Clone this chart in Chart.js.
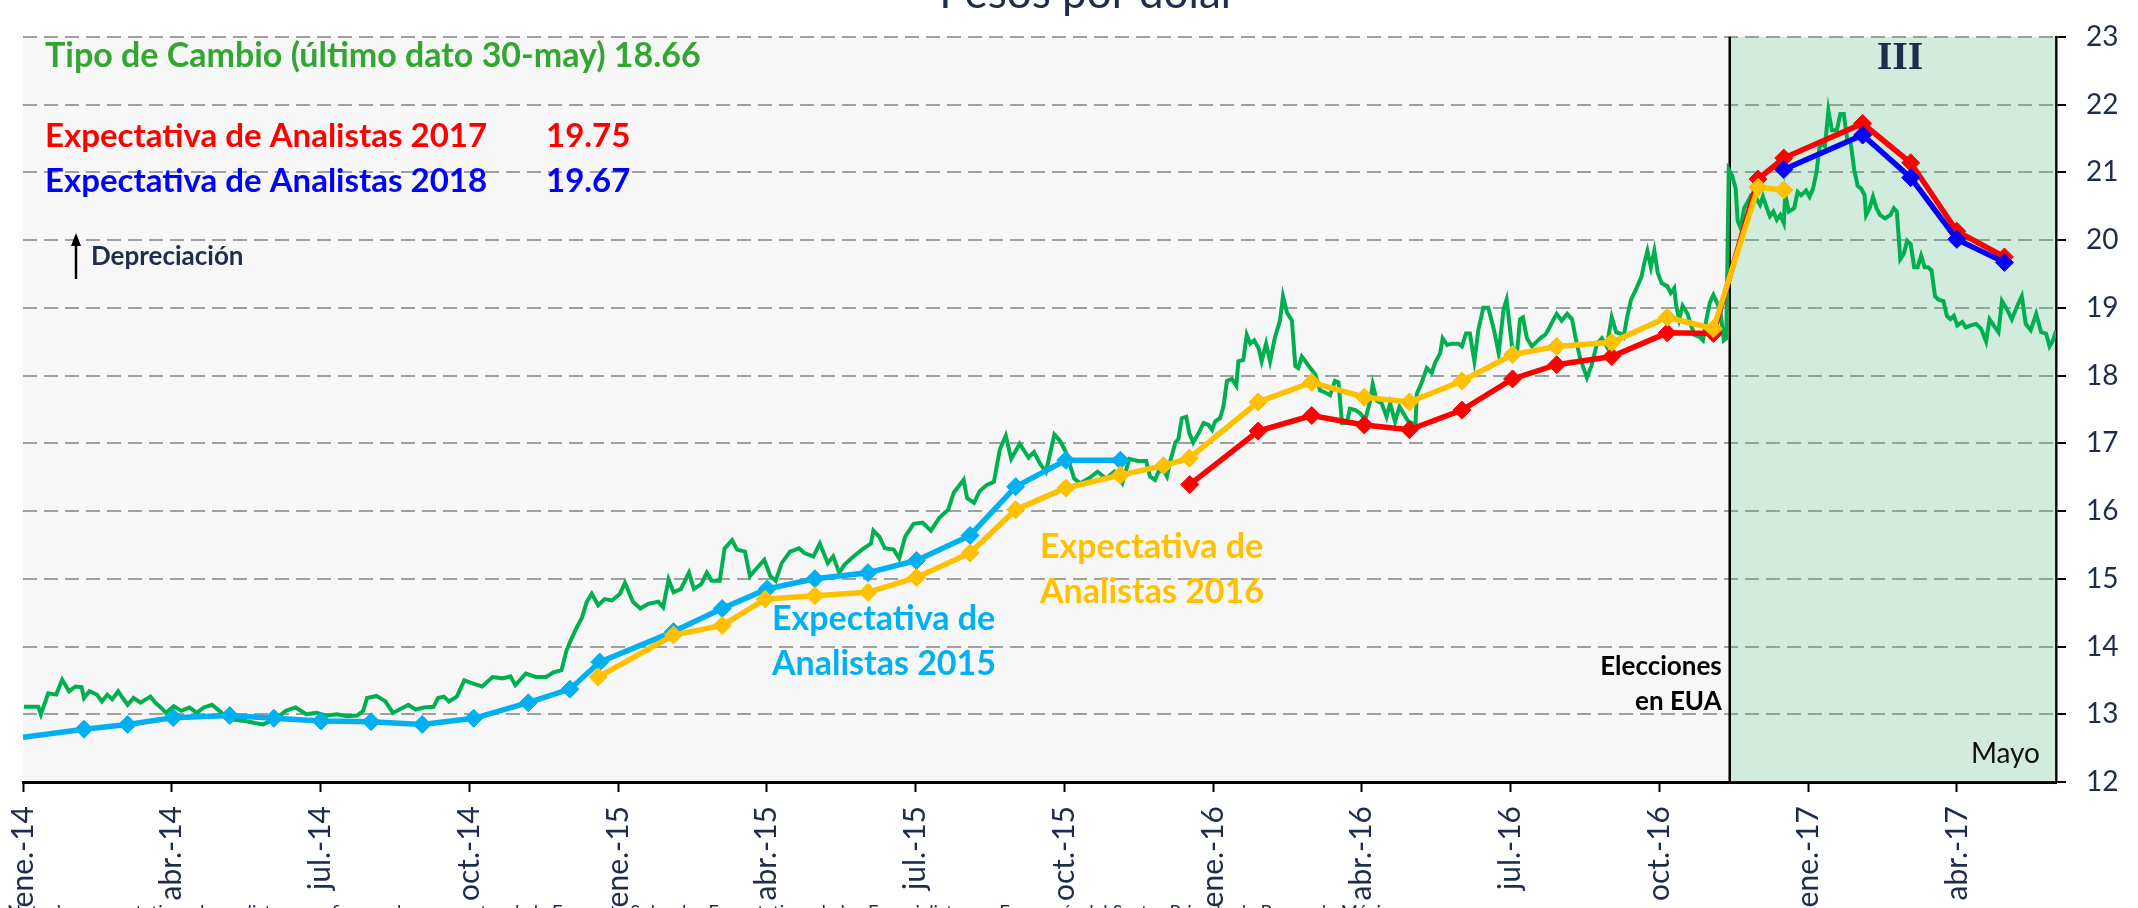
<!DOCTYPE html>
<html><head><meta charset="utf-8">
<script src="https://cdn.jsdelivr.net/npm/chart.js@4.4.1/dist/chart.umd.min.js"></script>
<style>html,body{margin:0;padding:0;background:#fff;}canvas{display:block}</style>
</head><body>
<canvas id="c" width="2138" height="908"></canvas>
<script>
// x values: months elapsed since 1-ene-2014
const tickMonths = [0,3,6,9,12,15,18,21,24,27,30,33,36,39];
const tickLabels = ['ene.-14','abr.-14','jul.-14','oct.-14','ene.-15','abr.-15','jul.-15','oct.-15','ene.-16','abr.-16','jul.-16','oct.-16','ene.-17','abr.-17'];
const yTicks = [12,13,14,15,16,17,18,19,20,21,22,23];
const electionMonth = 34.42;
const lastMonth = 41.0;

// Tipo de cambio (FIX)
const fxMonths = [0.02,0.31,0.36,0.51,0.67,0.79,0.93,1.06,1.18,1.23,1.34,1.49,1.59,1.70,1.80,1.92,2.01,2.11,2.23,2.37,2.57,2.67,2.78,2.88,3.04,3.19,3.36,3.50,3.65,3.81,3.96,4.11,4.27,4.48,4.68,4.84,5.09,5.30,5.50,5.71,5.92,6.12,6.33,6.53,6.74,6.86,6.94,7.13,7.31,7.46,7.67,7.77,7.92,8.08,8.28,8.37,8.49,8.59,8.75,8.90,9.05,9.26,9.47,9.67,9.83,9.93,10.14,10.34,10.55,10.70,10.86,10.96,11.04,11.16,11.27,11.37,11.47,11.60,11.73,11.88,12.04,12.14,12.30,12.45,12.61,12.81,12.91,13.02,13.12,13.27,13.43,13.53,13.68,13.79,13.89,14.05,14.15,14.30,14.40,14.56,14.66,14.78,14.95,15.07,15.18,15.30,15.47,15.65,15.76,15.94,16.07,16.23,16.34,16.46,16.57,16.75,16.92,17.10,17.15,17.27,17.38,17.56,17.67,17.79,17.96,18.14,18.31,18.48,18.66,18.77,18.97,19.04,19.18,19.29,19.43,19.58,19.70,19.82,19.93,20.10,20.28,20.39,20.51,20.63,20.80,20.92,21.03,21.20,21.32,21.49,21.67,21.84,22.01,22.17,22.31,22.48,22.65,
22.73,22.83,22.90,23.00,23.07,23.13,23.24,23.30,23.37,23.46,23.52,23.60,23.71,23.81,23.91,23.98,24.04,24.14,24.21,24.28,24.38,24.47,24.51,24.61,24.68,24.75,24.83,24.92,24.98,25.07,25.15,25.25,25.35,25.41,25.49,25.59,25.66,25.72,25.79,25.86,25.96,26.06,26.16,26.26,26.36,26.46,26.53,26.60,26.70,26.76,26.87,26.97,27.07,27.17,27.22,27.30,27.40,27.50,27.57,27.67,27.76,27.84,27.94,28.01,28.08,28.11,28.21,28.31,28.41,28.48,28.58,28.63,28.72,28.82,28.95,29.02,29.10,29.18,29.27,29.35,29.45,29.55,29.66,29.76,29.86,29.92,30.03,30.13,30.19,30.25,30.33,30.43,30.53,30.63,30.70,30.77,30.87,30.93,31.03,31.14,31.24,31.30,31.40,31.54,31.64,31.74,31.84,31.94,32.04,32.13,32.21,32.28,32.35,
32.43,32.53,32.64,32.71,32.76,32.83,32.90,32.97,33.05,33.16,33.23,33.30,33.34,33.40,33.47,33.57,33.64,33.71,33.81,33.88,33.95,34.02,34.09,34.16,34.23,34.30,34.35,34.40,34.47,34.54,34.58,34.64,34.71,34.78,34.85,34.92,35.03,35.09,35.16,35.23,35.30,35.37,35.44,35.51,35.54,35.61,35.72,35.79,35.86,35.96,36.03,36.10,36.17,36.24,36.34,36.41,36.48,36.58,36.65,36.72,36.79,36.86,36.93,37.00,37.07,37.14,37.17,37.24,37.31,37.38,37.45,37.55,37.66,37.73,37.79,37.86,37.93,38.00,38.07,38.14,38.21,38.28,38.35,38.42,38.49,38.56,38.63,38.73,38.80,38.87,38.94,39.01,39.11,39.18,39.28,39.39,39.49,39.59,39.66,39.77,39.84,39.91,40.01,40.11,40.22,40.31,40.39,40.49,40.60,40.70,40.80,40.87,40.94,41.00];
const fxValues = [13.11,13.11,13.00,13.31,13.29,13.51,13.34,13.41,13.40,13.24,13.34,13.29,13.19,13.29,13.22,13.34,13.24,13.14,13.24,13.17,13.26,13.17,13.10,13.02,13.12,13.05,13.10,13.02,13.10,13.14,13.05,12.95,12.92,12.90,12.87,12.85,12.93,13.05,13.10,13.00,13.02,12.98,13.00,12.97,12.98,13.05,13.24,13.27,13.19,13.02,13.10,13.14,13.07,13.10,13.11,13.24,13.26,13.19,13.26,13.50,13.46,13.41,13.55,13.53,13.56,13.43,13.60,13.55,13.55,13.62,13.65,13.94,14.08,14.27,14.42,14.66,14.78,14.61,14.70,14.68,14.78,14.94,14.66,14.56,14.63,14.66,14.58,14.99,14.80,14.85,15.09,14.85,14.92,15.09,14.97,14.97,15.45,15.57,15.43,15.40,15.04,15.14,15.28,15.04,14.97,15.23,15.40,15.45,15.38,15.33,15.52,15.23,15.33,15.09,15.21,15.33,15.43,15.52,15.71,15.62,15.45,15.43,15.30,15.62,15.81,15.83,15.71,15.90,16.02,16.27,16.46,16.19,16.12,16.29,16.38,16.43,16.91,17.11,16.77,16.99,16.79,16.87,16.70,16.58,17.13,17.03,16.87,16.48,16.41,16.48,16.58,16.48,16.58,16.41,16.77,16.74,16.74,
16.51,16.46,16.58,16.60,16.51,16.72,17.01,17.06,17.37,17.39,17.15,17.01,17.15,17.30,17.27,17.20,17.32,17.37,17.54,17.92,17.95,17.85,18.21,18.23,18.60,18.47,18.52,18.40,18.21,18.47,18.21,18.57,18.81,19.17,18.93,18.81,18.14,18.11,18.28,18.21,18.11,18.02,17.78,17.75,17.71,17.92,17.90,17.30,17.30,17.51,17.49,17.44,17.35,17.63,17.87,17.63,17.59,17.39,17.59,17.32,17.54,17.44,17.32,17.30,17.25,17.73,17.90,18.11,18.04,18.19,18.33,18.55,18.45,18.47,18.47,18.43,18.62,18.62,18.21,18.67,19.00,19.00,18.69,18.33,18.98,19.12,18.43,18.33,18.83,18.86,18.55,18.43,18.50,18.57,18.60,18.69,18.83,18.91,18.81,18.91,18.83,18.60,18.26,17.97,18.16,18.47,18.55,18.43,18.86,18.64,18.62,18.57,18.86,
19.12,19.27,19.46,19.70,19.84,19.60,19.84,19.51,19.36,19.32,19.22,19.29,19.03,18.83,19.03,18.91,18.74,18.60,18.57,18.52,18.83,19.08,19.19,19.08,18.96,18.52,18.55,21.04,20.95,20.76,20.28,20.18,20.47,20.56,20.66,20.66,20.52,20.64,20.49,20.35,20.42,20.30,20.37,20.25,20.68,20.42,20.47,20.71,20.66,20.73,20.64,20.76,21.00,21.43,21.38,21.91,21.62,21.62,21.86,21.86,21.48,21.43,21.04,20.80,20.76,20.66,20.37,20.47,20.64,20.47,20.37,20.32,20.37,20.47,20.42,19.72,19.80,19.99,19.94,19.60,19.60,19.77,19.60,19.60,19.55,19.17,19.12,19.10,18.88,18.83,18.88,18.74,18.79,18.71,18.74,18.76,18.69,18.50,18.83,18.71,18.64,19.10,18.98,18.83,19.03,19.17,18.76,18.67,18.91,18.64,18.62,18.43,18.52,18.66];

// Expectativa de Analistas 2015
const exp15Months = [0,1.23,2.11,3.03,4.17,5.06,6.01,7.02,8.05,9.09,10.19,11.03,11.63,13.12,14.10,15.01,15.97,17.04,18.02,19.10,20.02,21.03,22.13];
const exp15Values = [12.66,12.78,12.85,12.95,12.98,12.94,12.90,12.89,12.85,12.94,13.17,13.37,13.77,14.22,14.56,14.85,15.00,15.09,15.27,15.64,16.36,16.75,16.75];
// Expectativa de Analistas 2016
const exp16Months = [11.60,13.12,14.10,14.97,15.97,17.04,18.02,19.10,20.02,21.03,22.13,23.00,23.52,24.91,25.99,27.05,27.96,29.02,30.04,30.93,32.04,33.16,34.09,34.99,35.51];
const exp16Values = [13.55,14.17,14.31,14.70,14.75,14.80,15.02,15.38,16.02,16.34,16.53,16.67,16.78,17.61,17.90,17.68,17.61,17.92,18.31,18.43,18.49,18.86,18.69,20.78,20.74];
// Expectativa de Analistas 2017
const exp17Months = [23.53,24.91,25.99,27.05,27.96,29.02,30.04,30.93,32.04,33.16,34.09,34.99,35.51,37.10,38.07,39.00,39.96];
const exp17Values = [16.39,17.18,17.41,17.27,17.20,17.49,17.95,18.16,18.28,18.63,18.62,20.90,21.21,21.72,21.14,20.13,19.75];
// Expectativa de Analistas 2018
const exp18Months = [35.51,37.10,38.07,39.00,39.96];
const exp18Values = [21.04,21.55,20.92,20.01,19.67];

const NAVY = '#1F2D4D';
const FONT = 'Lato, "Open Sans", sans-serif';

function pts(xs, ys){ return xs.map((x,i)=>({x:x, y:ys[i]})); }
function expSet(label, xs, ys, color, order, hideFirst){
  return {
    label, data: pts(xs, ys), borderColor: color, backgroundColor: color,
    borderWidth: 5.5, pointStyle: 'rectRot',
    pointRadius: hideFirst ? (c => c.dataIndex === 0 ? 0 : 9) : 9,
    pointBorderWidth: 1, pointBorderColor: color, pointBackgroundColor: color,
    tension: 0, order
  };
}

const backgroundPlugin = {
  id: 'bg',
  beforeDraw(chart){
    const {ctx, chartArea:a} = chart;
    ctx.save();
    ctx.fillStyle = '#F7F7F7';
    ctx.fillRect(a.left, a.top, a.right - a.left, a.bottom - a.top);
    ctx.restore();
  },
  beforeDatasetsDraw(chart){
    const {ctx, chartArea:a, scales} = chart;
    const xe = scales.x.getPixelForValue(electionMonth);
    const xr = scales.x.getPixelForValue(lastMonth);
    ctx.save();
    ctx.fillStyle = 'rgba(60,190,115,0.2)';
    ctx.fillRect(xe, a.top, xr - xe, a.bottom - a.top);
    ctx.strokeStyle = '#000';
    ctx.lineWidth = 2.5;
    ctx.beginPath();
    ctx.moveTo(xe, a.bottom);
    ctx.lineTo(xe, a.top);
    ctx.stroke();
    ctx.restore();
  }
};

const textPlugin = {
  id: 'texts',
  afterDraw(chart){
    const {ctx, scales} = chart;
    const xe = scales.x.getPixelForValue(electionMonth);
    ctx.save();
    ctx.textBaseline = 'alphabetic';
    const t = (s, x, y, font, color, align) => {
      ctx.font = font; ctx.fillStyle = color; ctx.textAlign = align || 'left';
      ctx.fillText(s, x, y);
    };
    // title (cut at top)
    t('Pesos por dólar', 1088, 8, '44px ' + FONT, NAVY, 'center');
    t('Tipo de Cambio (último dato 30-may) 18.66', 45, 67, 'bold 34px ' + FONT, '#33A532');
    t('Expectativa de Analistas 2017', 45, 147, 'bold 33px ' + FONT, '#FF0000');
    t('19.75', 546, 147, 'bold 33px ' + FONT, '#FF0000');
    t('Expectativa de Analistas 2018', 45, 192, 'bold 33px ' + FONT, '#0000FF');
    t('19.67', 546, 192, 'bold 33px ' + FONT, '#0000FF');
    // arrow
    ctx.strokeStyle = '#000'; ctx.fillStyle = '#000'; ctx.lineWidth = 2.5;
    ctx.beginPath(); ctx.moveTo(76, 279); ctx.lineTo(76, 244); ctx.stroke();
    ctx.beginPath(); ctx.moveTo(76, 233); ctx.lineTo(71, 246); ctx.lineTo(81, 246); ctx.closePath(); ctx.fill();
    t('Depreciación', 91, 265, 'bold 26px ' + FONT, NAVY);
    // series labels
    t('Expectativa de', 772, 630, 'bold 34px ' + FONT, '#00B0F0');
    t('Analistas 2015', 772, 675, 'bold 34px ' + FONT, '#00B0F0');
    t('Expectativa de', 1040, 558, 'bold 34px ' + FONT, '#FFC000');
    t('Analistas 2016', 1040, 603, 'bold 34px ' + FONT, '#FFC000');
    // elecciones
    t('Elecciones', xe - 8, 675, 'bold 26px ' + FONT, '#000', 'right');
    t('en EUA', xe - 8, 710, 'bold 26px ' + FONT, '#000', 'right');
    t('Mayo', 2040, 763, '28px ' + FONT, '#111', 'right');
    t('III', 1900, 69, 'bold 40px "Liberation Serif", "DejaVu Serif", serif', NAVY, 'center');
    // footnote (cut at bottom)
    ctx.textBaseline = 'top';
    t('Nota: Las expectativas de analistas se refieren a las encuestas de la Encuesta Sobre las Expectativas de los Especialistas en Economía del Sector Privado de Banco de México.', 7, 904, '18.5px ' + FONT, NAVY);
    ctx.restore();
  }
};

new Chart(document.getElementById('c'), {
  type: 'line',
  plugins: [backgroundPlugin, textPlugin],
  data: {
    datasets: [
      expSet('Expectativa de Analistas 2016', exp16Months, exp16Values, '#FFC000', 1, false),
      expSet('Expectativa de Analistas 2015', exp15Months, exp15Values, '#00B0F0', 2, true),
      expSet('Expectativa de Analistas 2018', exp18Months, exp18Values, '#0000FF', 3, false),
      expSet('Expectativa de Analistas 2017', exp17Months, exp17Values, '#FF0000', 4, false),
      { label: 'Tipo de Cambio', data: pts(fxMonths, fxValues), borderColor: '#00B050',
        borderWidth: 4, pointRadius: 0, tension: 0, order: 5 }
    ]
  },
  options: {
    responsive: false, animation: false, devicePixelRatio: 1,
    layout: { padding: { left: 23, top: 18, right: 0, bottom: 0 } },
    plugins: { legend: { display: false }, tooltip: { enabled: false }, title: { display: false } },
    scales: {
      x: {
        type: 'linear', min: 0, max: lastMonth,
        afterBuildTicks: s => { s.ticks = tickMonths.map(v => ({ value: v })); },
        afterFit: s => { s.height = 126; },
        ticks: {
          autoSkip: false, minRotation: 90, maxRotation: 90, padding: 14,
          color: NAVY, font: { family: FONT, size: 30 },
          callback: v => tickLabels[tickMonths.indexOf(v)]
        },
        grid: { drawOnChartArea: false, drawTicks: true, tickLength: 10, tickColor: '#000', tickWidth: 2 },
        border: { color: '#000', width: 3 }
      },
      y: {
        position: 'right', min: 12, max: 23,
        afterBuildTicks: s => { s.ticks = yTicks.map(v => ({ value: v })); },
        afterFit: s => { s.width = 82; },
        ticks: { color: NAVY, font: { family: FONT, size: 28 }, padding: 20 },
        grid: { color: '#A0A0A0', lineWidth: 2, tickColor: '#000', tickWidth: 2, tickLength: 10,
                tickBorderDash: [], borderDash: [14, 7] },
        border: { color: '#000', width: 2.5, dash: [14,7] }
      }
    }
  }
});
</script>
</body></html>
